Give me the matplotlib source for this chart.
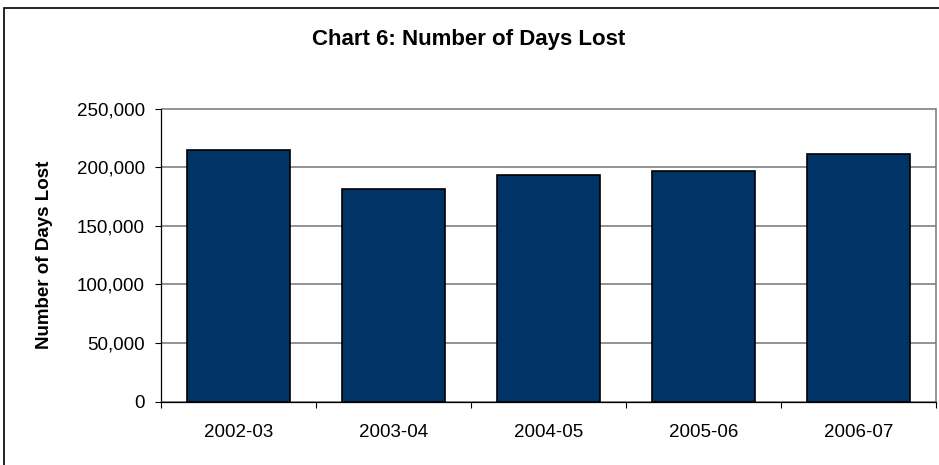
import matplotlib.pyplot as plt
from matplotlib.patches import Rectangle
from matplotlib.ticker import FuncFormatter, MultipleLocator

years = ['2002-03', '2003-04', '2004-05', '2005-06', '2006-07']
days_lost = [215000, 181000, 193000, 197000, 211500]

plt.rcParams['font.family'] = ['Liberation Sans', 'DejaVu Sans']

fig = plt.figure(figsize=(9.39, 4.65), dpi=100)
ax = fig.add_axes([160.7 / 939, 1 - 401.5 / 465, 775 / 939, 293 / 465])

# outer chart frame (cropped on the right and bottom in the original)
fig.patches.append(Rectangle((4 / 939, -0.1), 1.2, 1 - 8 / 465 + 0.1,
                             transform=fig.transFigure, fill=False,
                             edgecolor='black', linewidth=1.2))

x = range(len(years))
ax.bar(x, days_lost, width=0.667, color='#003366', edgecolor='black',
       linewidth=1.2, zorder=3)

ax.set_xlim(-0.5, len(years) - 0.5)
ax.set_ylim(0, 250000)
ax.yaxis.set_major_locator(MultipleLocator(50000))
ax.yaxis.set_major_formatter(FuncFormatter(lambda v, p: f'{int(v):,}'))
ax.set_xticks(list(x))
ax.set_xticklabels(years, fontsize=13.5)
ax.set_xticks([i + 0.5 for i in range(-1, len(years))], minor=True)
ax.tick_params(axis='x', which='major', length=0, pad=16)
ax.tick_params(axis='x', which='minor', length=4.5, direction='out', width=0.8)
ax.tick_params(axis='y', length=4.5, direction='out', width=0.8, labelsize=13.5, pad=7)

ax.grid(axis='y', color='#808080', linewidth=1.2, zorder=0)
ax.set_axisbelow(True)
ax.spines['top'].set_visible(False)
ax.spines['right'].set_color('#808080')
ax.spines['right'].set_linewidth(1.2)
ax.spines['left'].set_linewidth(0.9)
ax.spines['bottom'].set_linewidth(0.9)

fig.text(45 / 939, 1 - 255 / 465, 'Number of Days Lost', rotation=90,
         ha='center', va='center', fontsize=13.5, fontweight='bold')
fig.text(468.5 / 939, 1 - 39 / 465, 'Chart 6: Number of Days Lost',
         ha='center', va='center', fontsize=16, fontweight='bold')

fig.savefig('out.png', dpi=100)
